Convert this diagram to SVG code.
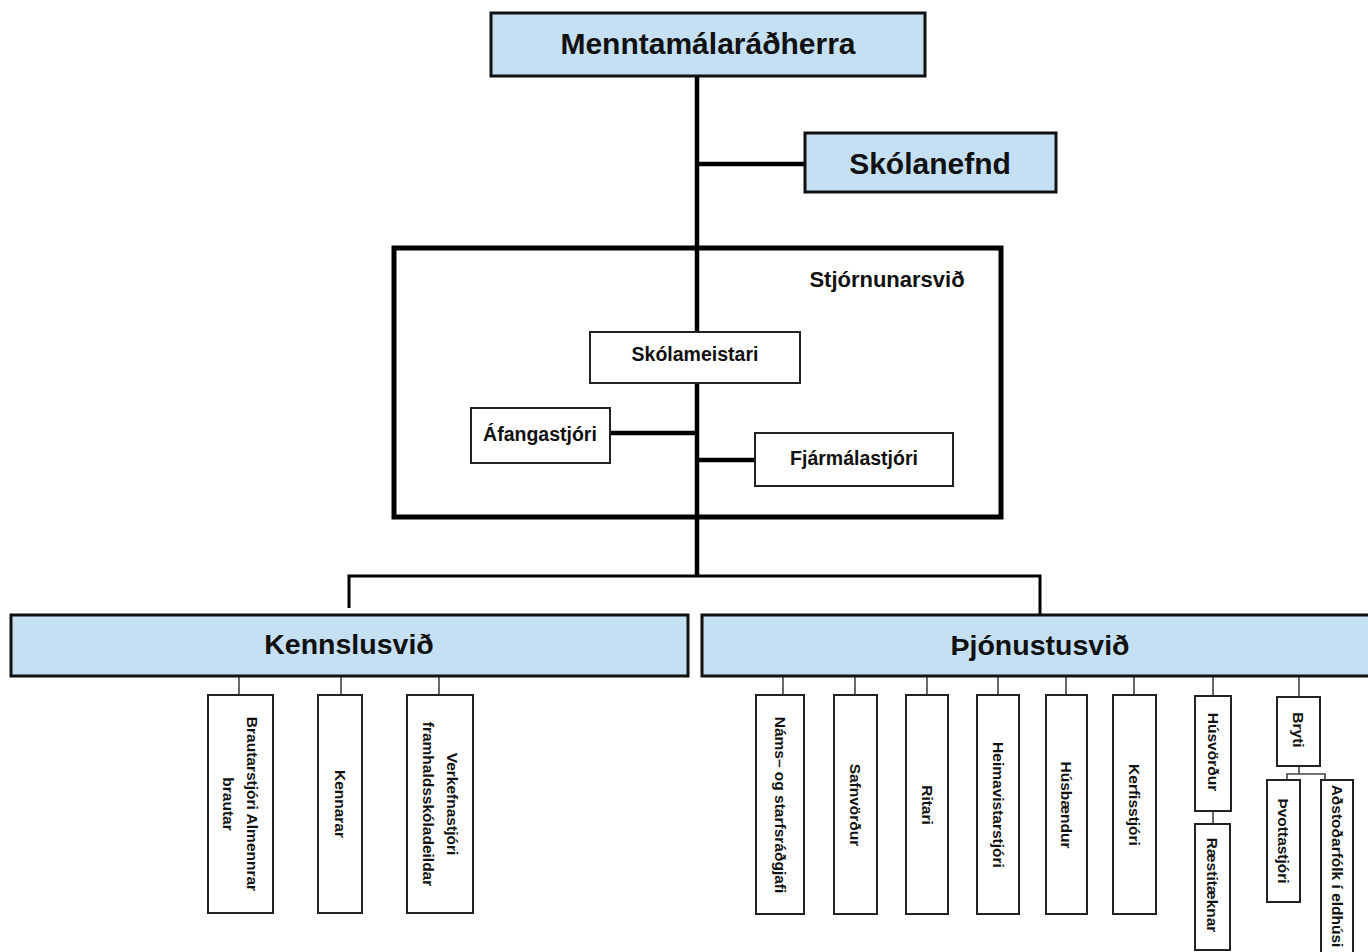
<svg xmlns="http://www.w3.org/2000/svg" width="1368" height="952" viewBox="0 0 1368 952">
<style>
  text { font-family: "Liberation Sans", Arial, sans-serif; font-weight: bold; fill: #111; }
  .blue { fill: #c5dff3; stroke: #111; stroke-width: 3; }
  .frame { fill: none; stroke: #000; stroke-width: 5; }
  .mid { fill: #fff; stroke: #222; stroke-width: 2; }
  .small { fill: #fff; stroke: #222; stroke-width: 2; }
  .thick { stroke: #000; stroke-width: 4.5; fill: none; }
  .bar { stroke: #000; stroke-width: 3; fill: none; }
  .thin { stroke: #444; stroke-width: 1.6; fill: none; }
  .t30 { font-size: 30px; }
  .t28 { font-size: 28.5px; }
  .t22 { font-size: 22px; }
  .t19 { font-size: 19.5px; }
  .v { font-size: 15.5px; }
</style>

<g id="connectors">
  <line class="thick" x1="697" y1="77" x2="697" y2="576"/>
  <line class="thick" x1="697" y1="164" x2="804" y2="164"/>
  <line class="thick" x1="610" y1="433" x2="697" y2="433"/>
  <line class="thick" x1="697" y1="460" x2="755" y2="460"/>
  <polyline class="bar" points="349,608 349,576 1040,576 1040,615"/>
  <line class="thin" x1="239" y1="676" x2="239" y2="695"/>
  <line class="thin" x1="341" y1="676" x2="341" y2="695"/>
  <line class="thin" x1="439" y1="676" x2="439" y2="695"/>
  <line class="thin" x1="783" y1="676" x2="783" y2="695"/>
  <line class="thin" x1="855" y1="676" x2="855" y2="695"/>
  <line class="thin" x1="927" y1="676" x2="927" y2="695"/>
  <line class="thin" x1="998" y1="676" x2="998" y2="695"/>
  <line class="thin" x1="1066" y1="676" x2="1066" y2="695"/>
  <line class="thin" x1="1134" y1="676" x2="1134" y2="695"/>
  <line class="thin" x1="1213" y1="676" x2="1213" y2="696"/>
  <line class="thin" x1="1213" y1="811" x2="1213" y2="824"/>
  <line class="thin" x1="1299" y1="676" x2="1299" y2="697"/>
  <polyline class="thin" points="1299,766 1299,774"/>
  <polyline class="thin" points="1287,780 1287,774 1325,774 1325,780"/>
</g>

<g id="menntamalaradherra">
  <rect class="blue" x="491" y="13" width="434" height="63"/>
  <text class="t30" x="708" y="54" text-anchor="middle">Menntamálaráðherra</text>
</g>

<g id="skolanefnd">
  <rect class="blue" x="805" y="133" width="251" height="59"/>
  <text class="t30" x="930" y="174" text-anchor="middle">Skólanefnd</text>
</g>

<g id="stjornunarsvid">
  <rect class="frame" x="394" y="248" width="607" height="269"/>
  <text class="t22" x="887" y="287" text-anchor="middle">Stjórnunarsvið</text>
</g>

<g id="skolameistari">
  <rect class="mid" x="590" y="332" width="210" height="51"/>
  <text class="t19" x="695" y="361" text-anchor="middle">Skólameistari</text>
</g>

<g id="afangastjori">
  <rect class="mid" x="471" y="408" width="139" height="55"/>
  <text class="t19" x="540" y="441" text-anchor="middle">Áfangastjóri</text>
</g>

<g id="fjarmalastjori">
  <rect class="mid" x="755" y="433" width="198" height="53"/>
  <text class="t19" x="854" y="465" text-anchor="middle">Fjármálastjóri</text>
</g>

<g id="kennslusvid">
  <rect class="blue" x="11" y="615" width="677" height="61"/>
  <text class="t28" x="349" y="654" text-anchor="middle">Kennslusvið</text>
</g>

<g id="thjonustusvid">
  <rect class="blue" x="702" y="615" width="680" height="61"/>
  <text class="t28" x="1040" y="655" text-anchor="middle">Þjónustusvið</text>
</g>

<g id="brautarstjori">
  <rect class="small" x="208" y="695" width="65" height="218"/>
  <text class="v" transform="translate(240,804) rotate(90)" text-anchor="middle"><tspan x="0" y="-7">Brautarstjóri Almennrar</tspan><tspan x="0" y="17">brautar</tspan></text>
</g>

<g id="kennarar">
  <rect class="small" x="318" y="695" width="44" height="218"/>
  <text class="v" transform="translate(340,804) rotate(90)" text-anchor="middle" x="0" y="5">Kennarar</text>
</g>

<g id="verkefnastjori">
  <rect class="small" x="407" y="695" width="66" height="218"/>
  <text class="v" transform="translate(440,804) rotate(90)" text-anchor="middle"><tspan x="0" y="-7">Verkefnastjóri</tspan><tspan x="0" y="17">framhaldsskóladeildar</tspan></text>
</g>

<g id="namsradgjafi">
  <rect class="small" x="756" y="695" width="48" height="219"/>
  <text class="v" transform="translate(780,805) rotate(90)" text-anchor="middle" x="0" y="5">Náms– og starfsráðgjafi</text>
</g>

<g id="safnvordur">
  <rect class="small" x="834" y="695" width="43" height="219"/>
  <text class="v" transform="translate(855,805) rotate(90)" text-anchor="middle" x="0" y="5">Safnvörður</text>
</g>

<g id="ritari">
  <rect class="small" x="906" y="695" width="42" height="219"/>
  <text class="v" transform="translate(927,805) rotate(90)" text-anchor="middle" x="0" y="5">Ritari</text>
</g>

<g id="heimavistarstjori">
  <rect class="small" x="977" y="695" width="42" height="219"/>
  <text class="v" transform="translate(998,805) rotate(90)" text-anchor="middle" x="0" y="5">Heimavistarstjóri</text>
</g>

<g id="husbaendur">
  <rect class="small" x="1046" y="695" width="41" height="219"/>
  <text class="v" transform="translate(1066,805) rotate(90)" text-anchor="middle" x="0" y="5">Húsbændur</text>
</g>

<g id="kerfisstjori">
  <rect class="small" x="1113" y="695" width="43" height="219"/>
  <text class="v" transform="translate(1134,805) rotate(90)" text-anchor="middle" x="0" y="5">Kerfisstjóri</text>
</g>

<g id="husvordur">
  <rect class="small" x="1195" y="696" width="36" height="115"/>
  <text class="v" transform="translate(1213,752) rotate(90)" text-anchor="middle" x="0" y="5">Húsvörður</text>
</g>

<g id="raestitaeknar">
  <rect class="small" x="1195" y="824" width="35" height="126"/>
  <text class="v" transform="translate(1212,885) rotate(90)" text-anchor="middle" x="0" y="5">Ræstitæknar</text>
</g>

<g id="bryti">
  <rect class="small" x="1277" y="697" width="43" height="69"/>
  <text class="v" transform="translate(1298,730) rotate(90)" text-anchor="middle" x="0" y="5">Bryti</text>
</g>

<g id="thvottastjori">
  <rect class="small" x="1267" y="780" width="33" height="122"/>
  <text class="v" transform="translate(1283,841) rotate(90)" text-anchor="middle" x="0" y="5">Þvottastjóri</text>
</g>

<g id="adstodarfolk">
  <rect class="small" x="1321" y="780" width="32" height="180"/>
  <text class="v" transform="translate(1337,866) rotate(90)" text-anchor="middle" x="0" y="5">Aðstoðarfólk í eldhúsi</text>
</g>
</svg>
